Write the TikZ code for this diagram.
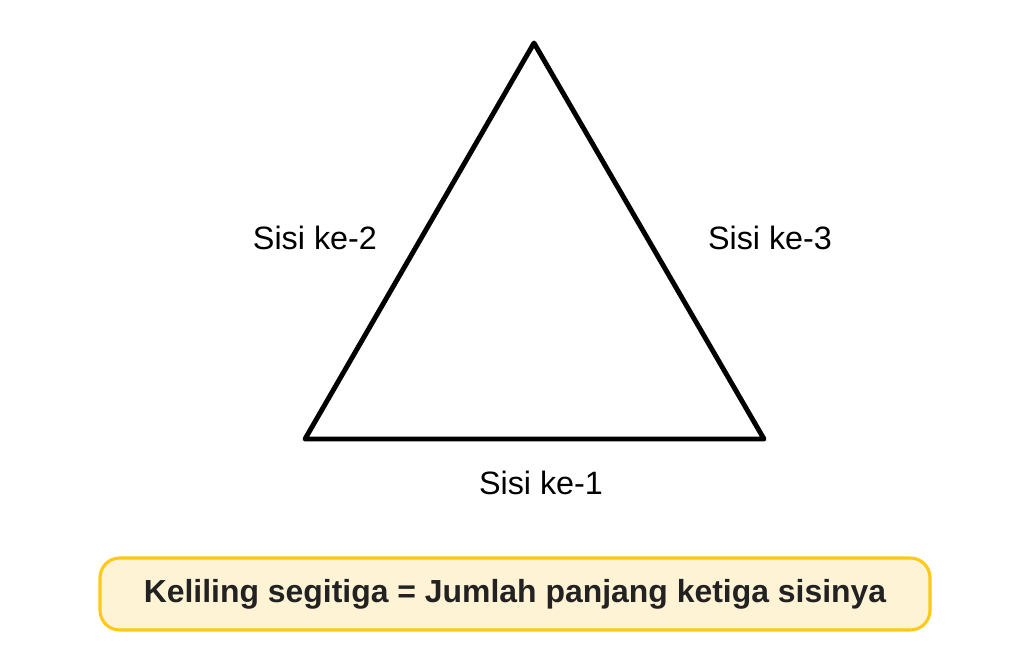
\documentclass[tikz,border=0pt]{standalone}
\usepackage{fontspec}
\setmainfont{Liberation Sans}
\definecolor{boxfill}{HTML}{FFF3D6}
\definecolor{boxline}{HTML}{FFC915}
\definecolor{textdark}{HTML}{222222}
\begin{document}
\begin{tikzpicture}[x = 0.025cm, y = -0.025cm,
    sidelabel/.style = {font=\fontsize{23}{28}\selectfont},
    notebox/.style = {draw=boxline, fill=boxfill, line width=2.2pt, rounded corners=14pt,
        minimum width=830*0.025cm, minimum height=72*0.025cm,
        font=\fontsize{22.7}{28}\selectfont\bfseries, text=textdark}]
            \useasboundingbox (0,0) rectangle (1030,664);
            \coordinate (A) at (534,43);
            \coordinate (B) at (305,439);
            \coordinate (C) at (764,439);
            \draw[black, line width = 3.5pt, line join = round] (A) -- (B) -- (C) -- cycle;

            \node[sidelabel] (s2) at (315,238) {Sisi ke-2};
            \node[sidelabel] (s3) at (770,238) {Sisi ke-3};
            \node[sidelabel] (s1) at (541,483) {Sisi ke-1};
            \node[notebox] (rumus) at (515,594) {Keliling segitiga = Jumlah panjang ketiga sisinya};
        \end{tikzpicture}
\end{document}
